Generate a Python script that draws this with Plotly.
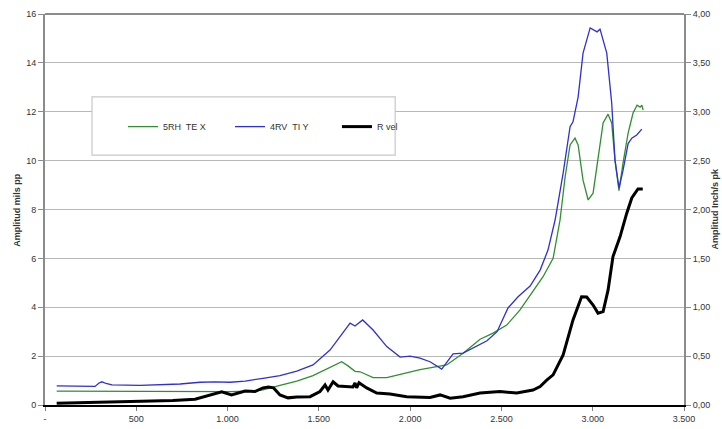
import plotly.graph_objects as go

# ---- data ----
green_x = [64, 301, 575, 849, 1013, 1123, 1194, 1287, 1379, 1468, 1561, 1625, 1660, 1698, 1726, 1797,
           1872, 1961, 2054, 2146, 2200, 2290, 2383, 2454, 2529, 2602, 2673, 2728, 2783, 2821, 2849,
           2876, 2903, 2920, 2947, 2975, 3002, 3029, 3057, 3084, 3104, 3122, 3144, 3166, 3194, 3221,
           3243, 3260, 3269, 3276]
green_y = [0.57, 0.56, 0.54, 0.55, 0.55, 0.57, 0.62, 0.80, 0.98, 1.20, 1.55, 1.77, 1.60, 1.38, 1.36, 1.12,
           1.12, 1.27, 1.45, 1.57, 1.64, 2.12, 2.69, 2.94, 3.27, 3.89, 4.64, 5.25, 6.00, 7.57, 9.34,
           10.64, 10.92, 10.64, 9.20, 8.39, 8.67, 10.02, 11.54, 11.90, 11.54, 10.02, 8.77, 9.90, 11.13, 11.95,
           12.27, 12.19, 12.27, 12.07]

blue_x = [64, 164, 274, 296, 312, 334, 367, 520, 630, 740, 849, 931, 1013, 1096, 1194, 1287, 1379, 1468,
          1561, 1632, 1671, 1698, 1740, 1797, 1872, 1945, 2000, 2054, 2109, 2173, 2235, 2290, 2345, 2421,
          2476, 2536, 2591, 2657, 2712, 2755, 2794, 2838, 2876, 2892, 2920, 2947, 2986, 3013, 3024, 3040,
          3077, 3104, 3122, 3144, 3166, 3194, 3214, 3241, 3269]
blue_y = [0.78, 0.77, 0.76, 0.90, 0.95, 0.88, 0.82, 0.80, 0.82, 0.86, 0.93, 0.95, 0.93, 0.98, 1.09, 1.20, 1.39, 1.64,
          2.25, 2.94, 3.35, 3.23, 3.48, 3.07, 2.39, 1.96, 2.00, 1.92, 1.77, 1.47, 2.09, 2.12, 2.33, 2.63,
          3.00, 3.97, 4.43, 4.87, 5.52, 6.34, 7.57, 9.49, 11.39, 11.59, 12.60, 14.40, 15.43, 15.34, 15.27, 15.38,
          14.40, 12.36, 10.02, 8.88, 9.60, 10.70, 10.92, 11.05, 11.29]

black_x = [64, 200, 400, 548, 700, 822, 913, 968, 1022, 1096, 1150, 1194, 1224, 1252, 1287, 1331, 1379,
           1452, 1506, 1534, 1550, 1578, 1605, 1652, 1687, 1698, 1707, 1720, 1762, 1817, 1890, 1981, 2071,
           2109, 2164, 2219, 2290, 2383, 2492, 2584, 2673, 2712, 2748, 2783, 2838, 2892, 2939, 2967, 3002,
           3029, 3057, 3084, 3111, 3150, 3186, 3214, 3248, 3274]
black_y = [0.018, 0.023, 0.028, 0.035, 0.045, 0.060, 0.103, 0.135, 0.103, 0.143, 0.138, 0.175, 0.185, 0.175,
           0.103, 0.073, 0.083, 0.085, 0.138, 0.205, 0.153, 0.238, 0.195, 0.188, 0.185, 0.225, 0.175, 0.228,
           0.175, 0.123, 0.113, 0.085, 0.083, 0.078, 0.103, 0.070, 0.085, 0.123, 0.138, 0.123, 0.153, 0.188,
           0.255, 0.308, 0.513, 0.870, 1.108, 1.105, 1.023, 0.940, 0.955, 1.175, 1.518, 1.723, 1.960, 2.118,
           2.210, 2.210]

x_ticks = [0, 500, 1000, 1500, 2000, 2500, 3000, 3500]
x_labels = ["-", "500", "1.000", "1.500", "2.000", "2.500", "3.000", "3.500"]
y_ticks = [0, 2, 4, 6, 8, 10, 12, 14, 16]
y2_ticks = [0, 0.5, 1, 1.5, 2, 2.5, 3, 3.5, 4]
y2_labels = ["0,00", "0,50", "1,00", "1,50", "2,00", "2,50", "3,00", "3,50", "4,00"]

fig = go.Figure()
fig.add_trace(go.Scatter(x=green_x, y=green_y, mode="lines", name="5RH  TE X",
                         line=dict(color="#2f8f2f", width=1.3)))
fig.add_trace(go.Scatter(x=blue_x, y=blue_y, mode="lines", name="4RV  TI Y",
                         line=dict(color="#3030d0", width=1.3)))
fig.add_trace(go.Scatter(x=black_x, y=black_y, mode="lines", name="R vel", yaxis="y2",
                         line=dict(color="#000000", width=3)))

tickfont = dict(family="Liberation Sans, Arial, sans-serif", size=9, color="#333333")

fig.update_layout(
    width=722, height=429,
    margin=dict(l=45, r=38, t=14, b=24, autoexpand=False),
    paper_bgcolor="white", plot_bgcolor="white",
    font=dict(family="Liberation Sans, Arial, sans-serif", size=9, color="#333333"),
    showlegend=True,
    legend=dict(orientation="h", x=0.122, y=0.712, xanchor="left", yanchor="middle",
                bgcolor="rgba(0,0,0,0)", borderwidth=0, font=dict(size=9, color="#333333"),
                entrywidth=62, itemwidth=30),
    xaxis=dict(range=[0, 3500], tickvals=x_ticks, ticktext=x_labels, showgrid=False, zeroline=False,
               showline=True, linecolor="#000000", linewidth=1.5, ticks="outside", ticklen=4,
               tickcolor="#808080", tickfont=tickfont),
    yaxis=dict(range=[0, 16], tickvals=y_ticks, showgrid=True, gridcolor="#b8b8b8", gridwidth=1.2,
               zeroline=False, showline=True, linecolor="#8c8c8c", linewidth=2, ticks="outside",
               ticklen=5, tickcolor="#8c8c8c", tickfont=tickfont),
    yaxis2=dict(range=[0, 4], tickvals=y2_ticks, ticktext=y2_labels, overlaying="y", side="right",
                showgrid=False, zeroline=False, showline=True, linecolor="#8c8c8c", linewidth=2,
                ticks="outside", ticklen=5, tickcolor="#8c8c8c", tickfont=tickfont),
    annotations=[
        dict(text="<b>Amplitud mils pp</b>", xref="paper", yref="paper", x=-0.045, y=0.5,
             textangle=-90, showarrow=False, xanchor="center", yanchor="middle",
             font=dict(size=9, color="#333333")),
        dict(text="<b>Amplitud Inch/s pk</b>", xref="paper", yref="paper", x=1.047, y=0.5,
             textangle=-90, showarrow=False, xanchor="center", yanchor="middle",
             font=dict(size=9, color="#333333")),
    ],
    shapes=[
        dict(type="line", xref="paper", yref="paper", x0=0, x1=1, y0=1, y1=1,
             line=dict(color="#8c8c8c", width=2)),
        dict(type="rect", xref="paper", yref="paper", x0=0.0736, x1=0.548, y0=0.639, y1=0.788,
             fillcolor="white", line=dict(color="#c8c8c8", width=1.2), layer="above"),
    ],
)

fig.write_html("out.html", config={"displayModeBar": False},
               post_script="document.body.style.margin='0';document.body.style.overflow='hidden';")
